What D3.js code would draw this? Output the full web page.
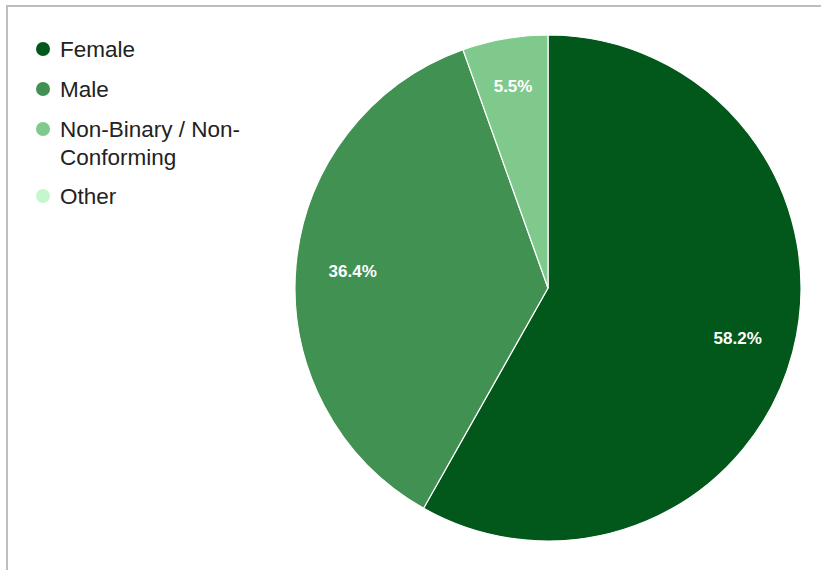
<!DOCTYPE html>
<html><head><meta charset="utf-8">
<script src="https://cdn.jsdelivr.net/npm/d3@7"></script>
<style>
html,body{margin:0;padding:0;background:#fff;}
svg{display:block;font-family:"Liberation Sans",Arial,sans-serif;}
</style></head>
<body>
<svg id="chart" width="821" height="570"></svg>
<script>
const categories = ["Female", "Male", "Non-Binary / Non-Conforming", "Other"];
const legendLines = [["Female"], ["Male"], ["Non-Binary / Non-", "Conforming"], ["Other"]];
const counts = [32, 20, 3, 0];
const colors = ["#02581a", "#419153", "#80c98c", "#c4f7cb"];

const svg = d3.select("#chart");
// frame (left + top border)
svg.append("line").attr("x1", 7).attr("y1", 6).attr("x2", 821).attr("y2", 6).attr("stroke", "#bdbdbd").attr("stroke-width", 2);
svg.append("line").attr("x1", 7).attr("y1", 5).attr("x2", 7).attr("y2", 570).attr("stroke", "#bdbdbd").attr("stroke-width", 2);

const cx = 548, cy = 288, r = 253;
const total = d3.sum(counts);
const pie = d3.pie().value(d => d).sort(null);
const arcs = pie(counts);
const arc = d3.arc().innerRadius(0).outerRadius(r);
const color = d3.scaleOrdinal().domain(categories).range(colors);

const g = svg.append("g").attr("transform", `translate(${cx},${cy})`);
g.selectAll("path").data(arcs.filter(a => a.value > 0)).join("path")
  .attr("d", arc)
  .attr("fill", (d) => color(categories[d.index]))
  .attr("stroke", "#fff").attr("stroke-width", 1.2);

g.selectAll("text").data(arcs.filter(a => a.value > 0)).join("text")
  .attr("transform", d => {
    const frac = d.value / total;
    const lr = frac < 0.1 ? r * 0.81 : r * 0.775;
    const a = (d.startAngle + d.endAngle) / 2;
    return `translate(${lr * Math.sin(a)},${-lr * Math.cos(a)})`;
  })
  .attr("text-anchor", "middle").attr("dy", "0.36em")
  .attr("fill", "#fff").attr("font-size", 17).attr("font-weight", "bold")
  .text(d => (d.value / total * 100).toFixed(1) + "%");

// legend
const rowY = [49, 89, 129, 196];
const lg = svg.append("g");
categories.forEach((c, i) => {
  lg.append("circle").attr("cx", 43).attr("cy", rowY[i]).attr("r", 7).attr("fill", colors[i]);
  legendLines[i].forEach((t, j) => {
    lg.append("text").attr("x", 60).attr("y", rowY[i] + j * 28).attr("dy", "0.36em")
      .attr("font-size", 22.5).attr("fill", "#222").text(t);
  });
});
</script>
</body></html>
